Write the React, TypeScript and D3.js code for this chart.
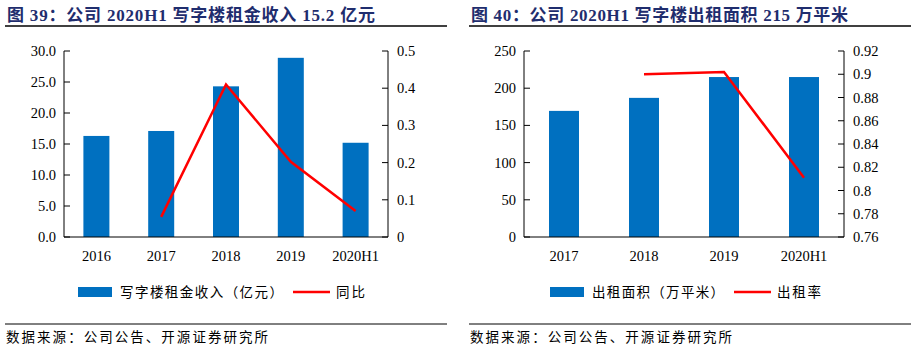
import React from 'react';
import * as d3 from 'd3';

// 图39 data
const years39 = ['2016', '2017', '2018', '2019', '2020H1'];
const rent39 = [16.3, 17.1, 24.3, 28.9, 15.2];
const yoy39 = [null, 0.054, 0.41, 0.202, 0.07];
const leftTicks39 = [0, 5, 10, 15, 20, 25, 30];
const rightTicks39 = [0, 0.1, 0.2, 0.3, 0.4, 0.5];

// 图40 data
const years40 = ['2017', '2018', '2019', '2020H1'];
const area40 = [169.5, 187, 215, 215];
const rate40 = [null, 0.9, 0.902, 0.811];
const leftTicks40 = [0, 50, 100, 150, 200, 250];
const rightTicks40 = [0.76, 0.78, 0.8, 0.82, 0.84, 0.86, 0.88, 0.9, 0.92];

const BLUE = '#0070C0';
const RED = '#FF0000';
const NAVY = '#1F2D6E';
const NUM_FONT = '"Liberation Serif", "Times New Roman", serif';
const CJK_FONT = '"Noto Sans CJK SC", sans-serif';

function Panel({ x0, title, titleLen, cats, bars, line, lTicks, rTicks, lFmt, rFmt, lDomain, rDomain, plotL, plotR, barW, legendBar, legendLine, legX, legLen }) {
  const top = 51;
  const bottom = 237;
  const x = d3.scaleBand().domain(cats).range([plotL, plotR]);
  const yL = d3.scaleLinear().domain(lDomain).range([bottom, top]);
  const yR = d3.scaleLinear().domain(rDomain).range([bottom, top]);
  const pts = cats
    .map((c, i) => [c, line[i]])
    .filter((d) => d[1] != null);
  const path = d3
    .line()
    .x((d) => x(d[0]) + x.bandwidth() / 2)
    .y((d) => yR(d[1]))(pts);
  return (
    <g transform={`translate(${x0},0)`}>
      <text x={7} y={21} fontFamily={`${NUM_FONT}, ${CJK_FONT}`} fontWeight="bold" fontSize={17} fill={NAVY} textLength={titleLen} lengthAdjust="spacing">
        {title}
      </text>
      <line x1={5} x2={447} y1={26} y2={26} stroke="#000" strokeWidth={1.5} />
      {cats.map((c, i) => (
        <rect key={c} x={x(c) + (x.bandwidth() - barW) / 2} y={yL(bars[i])} width={barW} height={bottom - yL(bars[i])} fill={BLUE} />
      ))}
      <path d={path} fill="none" stroke={RED} strokeWidth={2.5} />
      {/* axes */}
      <line x1={plotL} x2={plotL} y1={top} y2={bottom} stroke="#000" />
      <line x1={plotR} x2={plotR} y1={top} y2={bottom} stroke="#000" />
      <line x1={plotL} x2={plotR} y1={bottom} y2={bottom} stroke="#000" />
      {lTicks.map((t) => (
        <g key={'l' + t}>
          <line x1={plotL} x2={plotL + 6} y1={yL(t)} y2={yL(t)} stroke="#000" />
          <text x={plotL - 8} y={yL(t) + 5} textAnchor="end" fontFamily={NUM_FONT} fontSize={14.5} fill="#000">
            {lFmt(t)}
          </text>
        </g>
      ))}
      {rTicks.map((t) => (
        <g key={'r' + t}>
          <line x1={plotR - 6} x2={plotR} y1={yR(t)} y2={yR(t)} stroke="#000" />
          <text x={plotR + 9} y={yR(t) + 5} fontFamily={NUM_FONT} fontSize={14.5} fill="#000">
            {rFmt(t)}
          </text>
        </g>
      ))}
      {cats.map((c) => (
        <text key={'x' + c} x={x(c) + x.bandwidth() / 2} y={261} textAnchor="middle" fontFamily={NUM_FONT} fontSize={14.5} fill="#000">
          {c}
        </text>
      ))}
      {/* legend */}
      <rect x={legX[0]} y={287} width={34} height={10} fill={BLUE} />
      <text x={legX[0] + 42} y={297} fontFamily={CJK_FONT} fontSize={13.5} fill="#000" textLength={legLen[0]} lengthAdjust="spacing">
        {legendBar}
      </text>
      <line x1={legX[1]} x2={legX[1] + 37} y1={292} y2={292} stroke={RED} strokeWidth={2.5} />
      <text x={legX[1] + 43} y={297} fontFamily={CJK_FONT} fontSize={13.5} fill="#000" textLength={legLen[1]} lengthAdjust="spacing">
        {legendLine}
      </text>
      <line x1={5} x2={447} y1={324} y2={324} stroke="#000" strokeWidth={1} />
      <text x={6} y={342} fontFamily={CJK_FONT} fontSize={13.5} fill="#000" textLength={262} lengthAdjust="spacing">
        数据来源：公司公告、开源证券研究所
      </text>
    </g>
  );
}

export default function App() {
  return (
    <svg width={913} height={350} style={{ position: 'absolute', left: 0, top: 0, background: '#fff' }}>
      <rect width={913} height={350} fill="#fff" />
      <Panel
        x0={0}
        title="图 39：公司 2020H1 写字楼租金收入 15.2 亿元"
        titleLen={368}
        cats={years39}
        bars={rent39}
        line={yoy39}
        lTicks={leftTicks39}
        rTicks={rightTicks39}
        lFmt={(t) => t.toFixed(1)}
        rFmt={(t) => (t === 0 ? '0' : String(t))}
        lDomain={[0, 30]}
        rDomain={[0, 0.5]}
        plotL={64}
        plotR={388}
        barW={26}
        legendBar="写字楼租金收入（亿元）"
        legendLine="同比"
        legX={[78, 293]}
        legLen={[163, 29]}
      />
      <Panel
        x0={464}
        title="图 40：公司 2020H1 写字楼出租面积 215 万平米"
        titleLen={377}
        cats={years40}
        bars={area40}
        line={rate40}
        lTicks={leftTicks40}
        rTicks={rightTicks40}
        lFmt={(t) => String(t)}
        rFmt={(t) => String(+t.toFixed(2))}
        lDomain={[0, 250]}
        rDomain={[0.76, 0.92]}
        plotL={60}
        plotR={380}
        barW={30}
        legendBar="出租面积（万平米）"
        legendLine="出租率"
        legX={[86, 270]}
        legLen={[132, 44]}
      />
    </svg>
  );
}
